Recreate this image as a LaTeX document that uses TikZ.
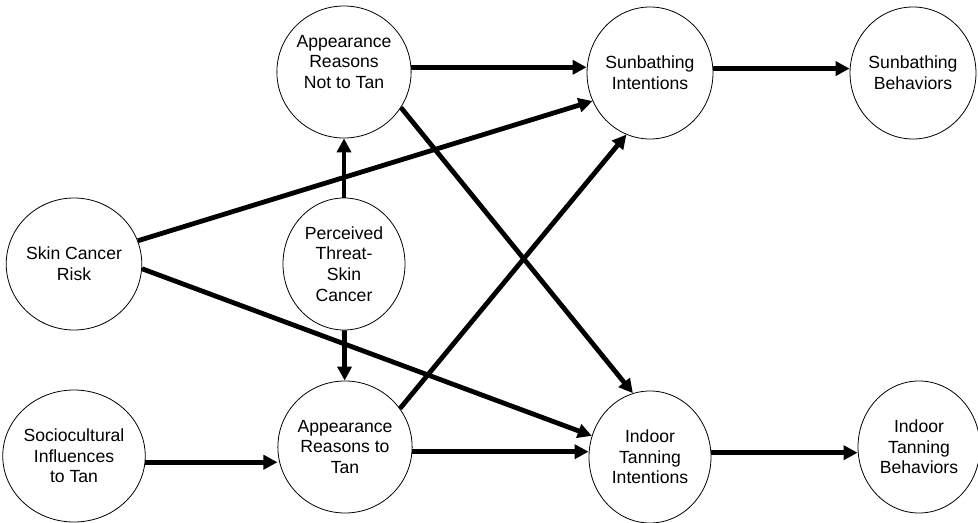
\documentclass[tikz,border=0pt]{standalone}
\usepackage{fontspec}
\setmainfont{Liberation Sans}
\usetikzlibrary{shapes.geometric,arrows.meta}

\begin{document}
\begin{tikzpicture}[x=0.75pt,y=-0.75pt,
    factor/.style={draw,ellipse,line width=0.6pt,minimum width=91.5pt,minimum height=99pt,
      inner sep=0pt,align=center,font=\fontsize{13.2}{15.5}\selectfont},
    effect/.style={line width=3.6pt,-{Triangle[length=10.5pt,width=10.5pt]}}]
  \useasboundingbox (0,0) rectangle (978,523);
  % Draw the factors
  \node[factor] (scr) at (74,264) {Skin Cancer\\Risk};
  \node[factor] (sci) at (74,456) {Sociocultural\\Influences\\to Tan};
  \node[factor] (arnt) at (344,72) {Appearance\\Reasons\\Not to Tan\\\mbox{}};
  \node[factor] (pt) at (344,264) {Perceived\\Threat-\\Skin\\Cancer};
  \node[factor] (art) at (345,447) {Appearance\\Reasons to\\Tan};
  \node[factor] (si) at (650,73) {Sunbathing\\Intentions};
  \node[factor] (iti) at (650,457) {Indoor\\Tanning\\Intentions};
  \node[factor] (sb) at (913,73) {Sunbathing\\Behaviors};
  \node[factor] (itb) at (919,447) {Indoor\\Tanning\\Behaviors};
  % Draw the effects
  \draw[effect] (scr.20) -- (si.206);
  \draw[effect] (scr.-4) -- (iti.160);
  \draw[effect] (sci.-5) -- (sci.-5 -| art.west);
  \draw[effect] (pt) -- (arnt);
  \draw[effect] (pt) -- (art);
  \draw[effect] (arnt.4) -- (arnt.4 -| si.west);
  \draw[effect] (arnt.-32) -- (iti.105);
  \draw[effect] (art.35) -- (si.249);
  \draw[effect] (art.-4) -- (art.-4 -| iti.west);
  \draw[effect] (si.4) -- (si.4 -| sb.west);
  \draw[effect] (iti.4) -- (iti.4 -| itb.west);
\end{tikzpicture}
\end{document}
